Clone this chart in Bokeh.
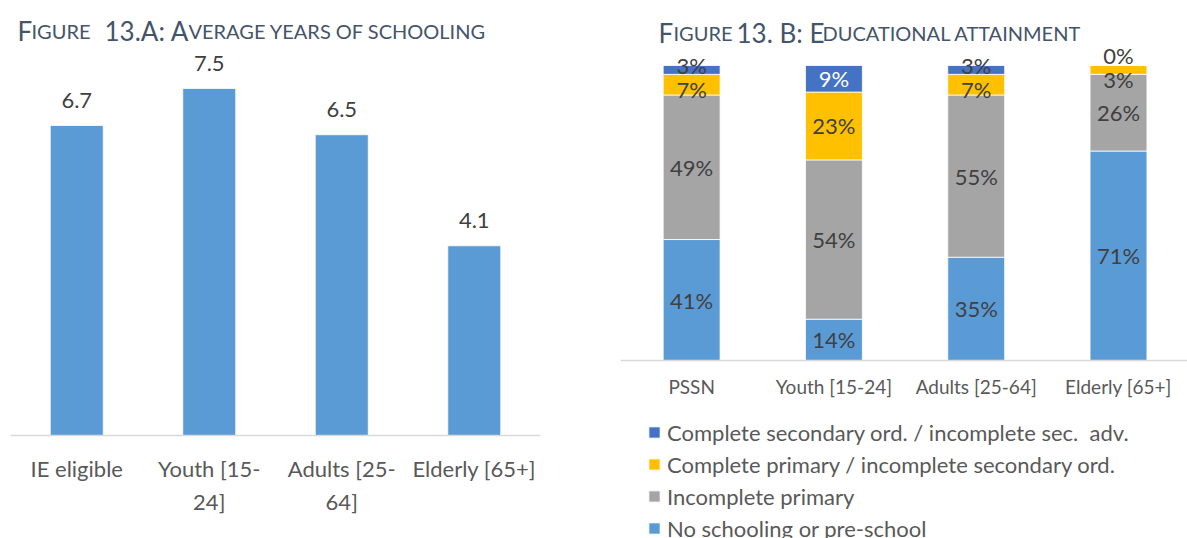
import numpy as np
from bokeh.plotting import figure
from bokeh.layouts import row
from bokeh.models import (ColumnDataSource, Range1d, Label, Legend, LegendItem, Span)
from bokeh.core.properties import value
from bokeh.embed import file_html
from bokeh.resources import INLINE

# ---------------- data ----------------
categories_a = ["IE eligible", "Youth [15-24]", "Adults [25-64]", "Elderly [65+]"]
avg_years = [6.7, 7.5, 6.5, 4.1]

categories_b = ["PSSN", "Youth [15-24]", "Adults [25-64]", "Elderly [65+]"]
no_schooling = [41, 14, 35, 71]
incomplete_primary = [49, 54, 55, 26]
complete_primary = [7, 23, 7, 3]
complete_secondary = [3, 9, 3, 0]
series_names = ["No schooling or pre-school", "Incomplete primary",
                "Complete primary / incomplete secondary ord.",
                "Complete secondary ord. / incomplete sec.  adv."]

title_a = [("F", "big"), ("IGURE", "small"), ("13.A: A", "big"),
           ("VERAGE YEARS OF SCHOOLING", "small")]
title_b = [("F", "big"), ("IGURE", "small"), ("13. B: E", "big"),
           ("DUCATIONAL ATTAINMENT", "small")]

# ---------------- style ----------------
FONT = "Lato"
TITLE_COLOR = "#44546A"
LABEL_COLOR = "#404040"
AXIS_TEXT = "#595959"
BASE_LINE = "#D9D9D9"
COLORS = ["#5B9BD5", "#A5A5A5", "#FFC000", "#4472C4"]
H = 538


def wrap(label):
    if "-" in label and len(label) > 12:
        i = label.index("-") + 1
        return label[:i] + "\n" + label[i:]
    return label


def add_title(p, parts, xs, y):
    for (txt, kind), x in zip(parts, xs):
        p.add_layout(Label(x=x, y=y, x_units="screen", y_units="screen", text=txt,
                           text_font=FONT,
                           text_font_size="26px" if kind == "big" else "20px",
                           text_color=TITLE_COLOR, text_baseline="alphabetic",
                           text_align="left"))


def base_fig(width, x_range, y_range, left, right):
    p = figure(width=width, height=H, title=None, x_range=x_range, y_range=y_range,
               output_backend="svg", toolbar_location=None,
               min_border_left=left, min_border_right=right, min_border_top=0,
               min_border_bottom=0, x_axis_location=None, y_axis_location=None,
               outline_line_color=None)
    p.xgrid.visible = False
    p.ygrid.visible = False
    return p


# ---------------- left chart ----------------
# 46.27 px per year, baseline 435 px from the top of a 538 px canvas
pa = base_fig(560, Range1d(-0.5, 3.5), Range1d(-2.226, 9.401), 10, 20)

xa = list(range(len(categories_a)))
src_a = ColumnDataSource(dict(x=xa, y=avg_years, zero=[0] * len(xa),
                              t=[f"{v:.1f}" for v in avg_years],
                              cat=[wrap(c) for c in categories_a]))
pa.vbar(x="x", top="y", width=0.4, source=src_a, fill_color=COLORS[0],
        line_color="white", line_width=0.8)
pa.text(x="x", y="y", text="t", source=src_a, text_align="center",
        text_baseline="middle", y_offset=-25, text_font=value(FONT),
        text_font_size="22px", text_color=LABEL_COLOR)
pa.add_layout(Span(location=0, dimension="width", line_color=BASE_LINE, line_width=1.5))
pa.text(x="x", y="zero", text="cat", source=src_a, text_align="center",
        text_baseline="top", y_offset=20, text_font=value(FONT),
        text_font_size="22px", text_color=AXIS_TEXT, text_line_height=1.2)
add_title(pa, title_a, [7, 21, 94, 178], 508)

# ---------------- right chart ----------------
# 2.95 px per percentage point, baseline 360 px from the top
pb = base_fig(627, Range1d(-0.5, 3.485), Range1d(-60.34, 122.03), 60, 0)

xb = list(range(len(categories_b)))
series = [no_schooling, incomplete_primary, complete_primary, complete_secondary]
keys = ["s0", "s1", "s2", "s3"]
src_b = ColumnDataSource(dict(x=xb, cat=categories_b, zero=[0] * len(xb),
                              **{k: s for k, s in zip(keys, series)}))
rends = pb.vbar_stack(keys, x="x", width=0.4, source=src_b, fill_color=COLORS,
                      line_color="white", line_width=0.8)

pb.add_layout(Span(location=0, dimension="width", line_color=BASE_LINE, line_width=1.5))

pb.text(x="x", y="zero", text="cat", source=src_b, text_align="center",
        text_baseline="middle", y_offset=26, text_font=value(FONT),
        text_font_size="19px", text_color=AXIS_TEXT)

# data labels centred in segments, nudged apart when they crowd
px_per_unit = 2.95
min_gap = 24 / px_per_unit
lx, ly, lt, lc = [], [], [], []
for i in xb:
    vals = np.array([s[i] for s in series], dtype=float)
    cum = np.cumsum(vals)
    ys = list(cum - vals / 2)
    for _ in range(5):
        for k in range(len(ys) - 1):
            if ys[k + 1] - ys[k] < min_gap:
                mid = (ys[k] + ys[k + 1]) / 2
                ys[k] = mid - min_gap / 2
                ys[k + 1] = mid + min_gap / 2
    for k, v in enumerate(vals):
        lx.append(i)
        ly.append(ys[k])
        lt.append(f"{int(v)}%")
        lc.append("white" if (k == 3 and v >= 5) else LABEL_COLOR)
pb.text(x=lx, y=ly, text=lt, text_color=lc, text_align="center",
        text_baseline="middle", text_font=value(FONT), text_font_size="22px")

items = [LegendItem(label=series_names[k], renderers=[rends[k]]) for k in [3, 2, 1, 0]]
legend = Legend(items=items, location=(27, -6), orientation="vertical", padding=0,
                margin=0, spacing=0, label_height=32, glyph_height=14, glyph_width=14,
                label_standoff=6, label_text_font=FONT, label_text_font_size="22px",
                label_text_color=AXIS_TEXT, border_line_color=None,
                background_fill_alpha=0)
pb.add_layout(legend, "center")
add_title(pb, title_b, [38, 53, 116, 202], 506)

layout = row(pa, pb)
open("out.html", "w").write(file_html(layout, INLINE))
